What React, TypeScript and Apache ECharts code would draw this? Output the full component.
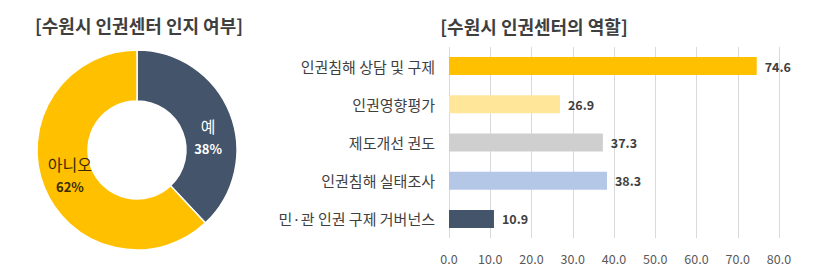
import React, { useEffect, useRef } from "react";
import * as echarts from "echarts";

const pieNames = ["예", "아니오"];
const pieValues = [38, 62];
const pieColors = ["#44546A", "#FFC000"];

const roles = [
  "인권침해 상담 및 구제",
  "인권영향평가",
  "제도개선 권도",
  "인권침해 실태조사",
  "민·관 인권 구제 거버넌스",
];
const roleValues = [74.6, 26.9, 37.3, 38.3, 10.9];
const roleColors = ["#FFC000", "#FFE699", "#CFCFCF", "#B4C7E7", "#44546A"];

const FONT = "'Noto Sans CJK KR', 'Noto Sans', sans-serif";

export default function App() {
  const ref = useRef<HTMLDivElement>(null);
  useEffect(() => {
    if (!ref.current) return;
    const chart = echarts.init(ref.current, null, { renderer: "svg" });
    chart.setOption({
      animation: false,
      backgroundColor: "#ffffff",
      textStyle: { fontFamily: FONT },
      graphic: [
        {
          type: "text",
          x: 139,
          y: 25,
          style: {
            text: "[수원시 인권센터 인지 여부]",
            fontFamily: FONT,
            fontSize: 18,
            fontWeight: "bold",
            fill: "#3F3F3F",
            textAlign: "center",
            textVerticalAlign: "middle",
          },
        },
        {
          type: "text",
          x: 534,
          y: 26,
          style: {
            text: "[수원시 인권센터의 역할]",
            fontFamily: FONT,
            fontSize: 18,
            fontWeight: "bold",
            fill: "#3F3F3F",
            textAlign: "center",
            textVerticalAlign: "middle",
          },
        },
      ],
      grid: { left: 449, right: 34, top: 47, bottom: 37 },
      xAxis: {
        type: "value",
        min: 0,
        max: 80,
        interval: 10,
        axisLine: { show: false },
        axisTick: { show: false },
        splitLine: { lineStyle: { color: "#D9D9D9", width: 1 } },
        axisLabel: {
          color: "#595959",
          fontSize: 12.5,
          margin: 14,
          fontFamily: FONT,
          formatter: (v: number) => v.toFixed(1),
        },
      },
      yAxis: {
        type: "category",
        inverse: true,
        data: roles,
        axisLine: { show: false },
        axisTick: { show: false },
        axisLabel: {
          color: "#3F3F3F",
          fontSize: 15,
          margin: 14,
          fontFamily: FONT,
        },
      },
      series: [
        {
          type: "pie",
          center: [137, 150],
          radius: [49, 100],
          startAngle: 90,
          clockwise: true,
          itemStyle: { borderColor: "#ffffff", borderWidth: 1.5 },
          label: {
            show: true,
            position: "inside",
            formatter: "{n|{b}}\n{p|{d}%}",
            rich: {
              n: { fontSize: 16, fontFamily: FONT, lineHeight: 23 },
              p: { fontSize: 13, fontWeight: "bold", fontFamily: FONT, lineHeight: 22 },
            },
          },
          labelLine: { show: false },
          data: pieNames.map((n, i) => ({
            name: n,
            value: pieValues[i],
            itemStyle: { color: pieColors[i] },
            label: {
              color: i === 0 ? "#ffffff" : "#3A2A00",
              offset: i === 0 ? [-1, 16] : [5, -4],
            },
          })),
        },
        {
          type: "bar",
          barWidth: 18,
          data: roleValues.map((v, i) => ({
            value: v,
            itemStyle: { color: roleColors[i] },
          })),
          label: {
            show: true,
            position: "right",
            distance: 8,
            color: "#3F3F3F",
            fontSize: 12.5,
            fontWeight: "bold",
            fontFamily: FONT,
            formatter: (p: any) => p.value.toFixed(1),
          },
        },
      ],
    });
    return () => chart.dispose();
  }, []);
  return (
    <div
      ref={ref}
      style={{ position: "absolute", left: 0, top: 0, width: 813, height: 275 }}
    />
  );
}
